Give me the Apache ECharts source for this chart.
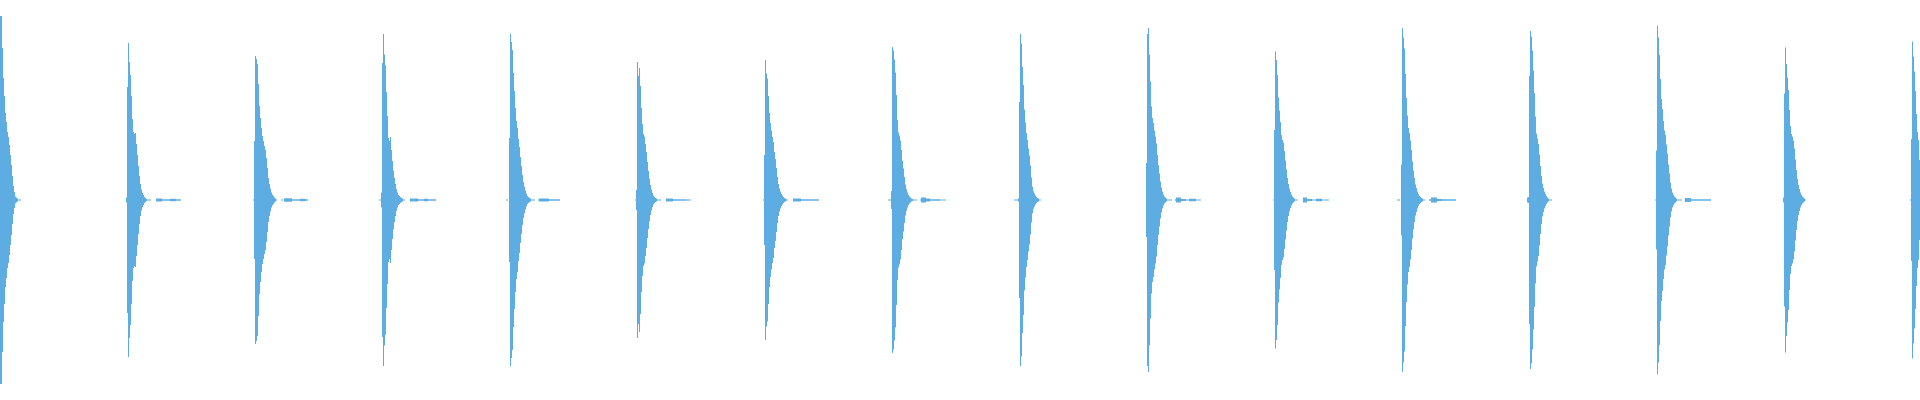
<!DOCTYPE html>
<html>
<head>
<meta charset="utf-8">
<title>waveform</title>
<script src="https://cdn.jsdelivr.net/npm/echarts@6/dist/echarts.min.js"></script>
<style>
  html, body { margin: 0; padding: 0; background: #fff; }
  #waveChart { width: 1920px; height: 400px; }
</style>
</head>
<body>
<div id="waveChart"></div>
<script>
// first frame of each hit (one frame = one drawn column)
const onsets = [0, 126, 253, 379, 506, 635, 763, 888, 1014, 1146, 1273, 1397, 1527, 1655, 1783, 1910]
const frameCount = 1920

// peak amplitude per frame, starting at the onset (0 = silence)
const peaks = [
  [0.92, 0.92, 0.76, 0.61, 0.52, 0.435, 0.39, 0.34, 0.315, 0.275, 0.225, 0.175, 0.12, 0.07, 0.04, 0.018, 0.012, 0.008, 0.003, 0.003, 0.003],
  [0.0125, 0.565, 0.785, 0.69, 0.625, 0.52, 0.405, 0.34, 0.33, 0.335, 0.28, 0.225, 0.17, 0.12, 0.08, 0.0525, 0.035, 0.025, 0.015, 0.01, 0.005, 0.003, 0.003, 0.003, 0.003, 0, 0, 0, 0, 0, 0.008, 0.008, 0.008, 0.008, 0.008, 0.008, 0.004, 0.004, 0.004, 0.004, 0.004, 0.004, 0.004, 0.004, 0.006, 0.006, 0.006, 0.006, 0.006, 0.006, 0.004, 0.004, 0.004, 0.004, 0.004],
  [0.003, 0.295, 0.72, 0.705, 0.68, 0.58, 0.47, 0.41, 0.36, 0.32, 0.295, 0.27, 0.25, 0.21, 0.16, 0.11, 0.08, 0.058, 0.038, 0.028, 0.02, 0.0125, 0.0075, 0.003, 0, 0, 0, 0, 0.003, 0.003, 0, 0.009, 0.009, 0.009, 0.009, 0.009, 0.009, 0.009, 0.009, 0.004, 0.004, 0.004, 0.004, 0.004, 0.004, 0.004, 0.004, 0.006, 0.006, 0.006, 0.006, 0.006, 0.004, 0.004, 0.004],
  [0.003, 0.003, 0.038, 0.685, 0.83, 0.728, 0.673, 0.54, 0.42, 0.31, 0.295, 0.315, 0.25, 0.195, 0.148, 0.11, 0.08, 0.055, 0.038, 0.025, 0.02, 0.015, 0.01, 0.0075, 0.003, 0.003, 0, 0, 0, 0, 0, 0.008, 0.008, 0.008, 0.008, 0.008, 0.008, 0.008, 0.008, 0.004, 0.004, 0.004, 0.004, 0.004, 0.004, 0.006, 0.006, 0.006, 0.006, 0.004, 0.004, 0.004, 0.004, 0.004, 0.004, 0.004, 0.004],
  [0.003, 0.003, 0, 0.31, 0.83, 0.79, 0.75, 0.635, 0.545, 0.46, 0.395, 0.36, 0.305, 0.265, 0.215, 0.17, 0.125, 0.09, 0.068, 0.048, 0.033, 0.02, 0.015, 0.01, 0.0075, 0.003, 0.003, 0.003, 0.003, 0, 0, 0, 0.003, 0.007, 0.007, 0.007, 0.007, 0.007, 0.007, 0.007, 0.007, 0.007, 0.007, 0.004, 0.004, 0.004, 0.004, 0.004, 0.004, 0.004, 0.004, 0.004, 0.004, 0.004],
  [0.003, 0.05, 0.69, 0.62, 0.66, 0.57, 0.46, 0.38, 0.33, 0.318, 0.28, 0.24, 0.19, 0.145, 0.108, 0.075, 0.052, 0.035, 0.0225, 0.015, 0.01, 0.0075, 0.003, 0.003, 0.003, 0.003, 0, 0, 0, 0, 0, 0.008, 0.008, 0.008, 0.008, 0.008, 0.008, 0.008, 0.004, 0.004, 0.004, 0.004, 0.004, 0.004, 0.004, 0.004, 0.004, 0.004, 0.004, 0.004, 0.004, 0.004, 0.003, 0.003, 0.003, 0.003],
  [0.003, 0.225, 0.7, 0.633, 0.608, 0.52, 0.435, 0.385, 0.348, 0.315, 0.29, 0.24, 0.205, 0.16, 0.115, 0.08, 0.058, 0.042, 0.03, 0.022, 0.015, 0.01, 0.0075, 0.003, 0.003, 0, 0, 0, 0, 0, 0.008, 0.008, 0.008, 0.008, 0.008, 0.008, 0.008, 0.008, 0.004, 0.004, 0.004, 0.004, 0.004, 0.004, 0.004, 0.004, 0.004, 0.004, 0.004, 0.004, 0.004, 0.004, 0.004, 0.004, 0.004, 0.004],
  [0.003, 0.003, 0.003, 0.045, 0.765, 0.748, 0.703, 0.638, 0.525, 0.4, 0.338, 0.323, 0.298, 0.25, 0.195, 0.158, 0.115, 0.078, 0.055, 0.038, 0.025, 0.018, 0.012, 0.0075, 0.005, 0.003, 0.003, 0.003, 0.003, 0, 0, 0, 0.003, 0.012, 0.012, 0.012, 0.012, 0.012, 0.008, 0.008, 0.008, 0.008, 0.004, 0.004, 0.004, 0.004, 0.004, 0.004, 0.004, 0.004, 0.004, 0.004, 0.003, 0.003, 0.003, 0.003, 0.003, 0.003],
  [0.003, 0.003, 0.003, 0.003, 0.008, 0.49, 0.83, 0.783, 0.665, 0.575, 0.453, 0.388, 0.335, 0.3, 0.258, 0.223, 0.173, 0.113, 0.068, 0.044, 0.033, 0.022, 0.015, 0.01, 0.0075, 0.003, 0.003],
  [0.185, 0.83, 0.86, 0.728, 0.593, 0.468, 0.41, 0.385, 0.348, 0.318, 0.283, 0.225, 0.175, 0.133, 0.093, 0.063, 0.043, 0.028, 0.018, 0.0125, 0.0075, 0.003, 0.003, 0.003, 0.003, 0.003, 0, 0, 0, 0.004, 0.012, 0.012, 0.012, 0.012, 0.012, 0.005, 0.005, 0.005, 0.005, 0.005, 0.003, 0.003, 0.003, 0.006, 0.006, 0.006, 0.006, 0.006, 0.006, 0.006, 0.003, 0.003, 0.003, 0.003, 0.003],
  [0.003, 0.35, 0.743, 0.7, 0.625, 0.513, 0.448, 0.39, 0.325, 0.3, 0.288, 0.245, 0.198, 0.153, 0.11, 0.08, 0.058, 0.04, 0.028, 0.018, 0.012, 0.0075, 0.003, 0.003, 0.003, 0, 0, 0, 0, 0, 0.012, 0.012, 0.012, 0.012, 0.005, 0.005, 0.005, 0.005, 0.005, 0.003, 0.003, 0.003, 0.003, 0.006, 0.006, 0.006, 0.006, 0.006, 0.006, 0.003, 0.003, 0.003, 0.003, 0.003, 0.003, 0.003],
  [0.003, 0.003, 0.003, 0, 0.178, 0.86, 0.813, 0.758, 0.63, 0.51, 0.423, 0.36, 0.335, 0.298, 0.25, 0.193, 0.148, 0.11, 0.078, 0.06, 0.043, 0.03, 0.02, 0.015, 0.01, 0.0075, 0.003, 0.003, 0, 0, 0, 0, 0.004, 0.004, 0.012, 0.012, 0.012, 0.012, 0.012, 0.012, 0.005, 0.005, 0.005, 0.005, 0.005, 0.004, 0.004, 0.004, 0.004, 0.004, 0.004, 0.004, 0.004, 0.004, 0.004, 0.004, 0.004, 0.004, 0.004],
  [0.0125, 0.015, 0.62, 0.845, 0.818, 0.748, 0.648, 0.535, 0.418, 0.333, 0.308, 0.28, 0.228, 0.17, 0.12, 0.083, 0.06, 0.043, 0.03, 0.02, 0.0125, 0.0075, 0.003, 0.003, 0.003],
  [0.003, 0.248, 0.87, 0.813, 0.725, 0.605, 0.505, 0.455, 0.395, 0.348, 0.325, 0.278, 0.233, 0.178, 0.133, 0.088, 0.058, 0.038, 0.028, 0.018, 0.0125, 0.0075, 0.003, 0.003, 0.003, 0.003, 0.003, 0, 0, 0, 0.01, 0.01, 0.01, 0.01, 0.01, 0.01, 0.004, 0.004, 0.004, 0.004, 0.004, 0.004, 0.004, 0.004, 0.004, 0.004, 0.004, 0.004, 0.004, 0.004, 0.004, 0.004, 0.004, 0.004, 0.004, 0.004],
  [0.0125, 0.533, 0.763, 0.68, 0.613, 0.55, 0.45, 0.37, 0.33, 0.318, 0.298, 0.258, 0.203, 0.15, 0.105, 0.075, 0.055, 0.038, 0.025, 0.018, 0.012, 0.0075, 0.003],
  [0.003, 0.305, 0.793, 0.718, 0.643, 0.545, 0.43, 0.34, 0.3, 0.2]
]

const waveColor = '#5dade2'

const frames = []
onsets.forEach((start, i) => {
  peaks[i].forEach((amp, k) => {
    if (amp > 0) frames.push([start + k, amp])
  })
})

const myChart = echarts.init(document.getElementById('waveChart'))
myChart.setOption({
  animation: false,
  grid: { left: 0, right: 0, top: 0, bottom: 0 },
  xAxis: { type: 'value', min: 0, max: frameCount, show: false },
  yAxis: { type: 'value', min: -1, max: 1, show: false },
  series: [{
    name: 'wave',
    type: 'custom',
    data: frames,
    renderItem: (params, api) => {
      const x = api.value(0)
      const amp = api.value(1)
      const top = api.coord([x, amp])
      const bottom = api.coord([x + 1, -amp])
      return {
        type: 'rect',
        shape: { x: top[0], y: top[1], width: bottom[0] - top[0], height: bottom[1] - top[1] },
        style: { fill: waveColor }
      }
    }
  }]
})
</script>
</body>
</html>
